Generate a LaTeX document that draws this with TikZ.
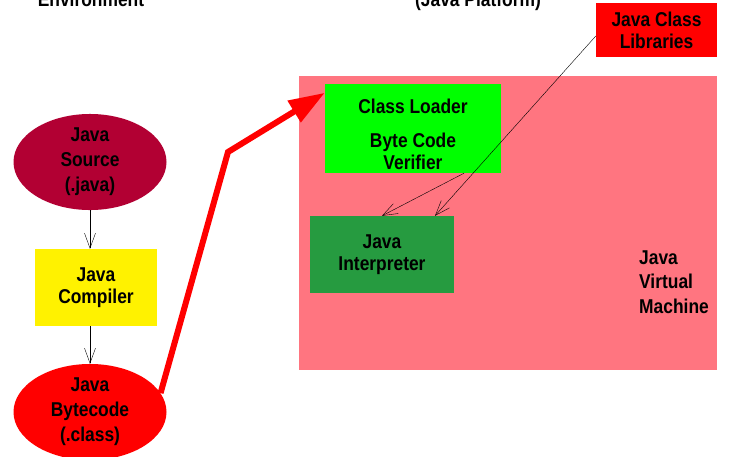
\documentclass[tikz,border=0pt]{standalone}
\usepackage{fontspec}
\setmainfont{Liberation Sans}[FakeStretch=0.87]
\usetikzlibrary{shapes.geometric,arrows.meta}

\definecolor{jvmpink}{RGB}{255,117,128}
\definecolor{srcred}{RGB}{178,0,51}
\definecolor{interpgreen}{RGB}{38,155,64}

\begin{document}
\begin{tikzpicture}[x=1pt,y=-1pt,
  txt/.style={font=\fontsize{20}{22}\selectfont\bfseries, align=center, inner sep=0pt},
  blob/.style={txt, ellipse, minimum width=153, minimum height=87, font=\fontsize{20}{25}\selectfont\bfseries},
  box/.style={txt, rectangle},
  flow/.style={-{Straight Barb[length=15pt,width=11pt]}, thin}]
\useasboundingbox (0,0) rectangle (729,456);

% headings (cut at the top)
\node[txt, anchor=base] (envtext) at (91,6) {Environment};
\node[txt, anchor=base] (platformtext) at (478,6) {(Java Platform)};

% development side
\node[blob, fill=srcred] (source) at (90,162) {Java\\Source\\(.java)};
\node[box, fill=yellow, minimum width=122, minimum height=77] (compiler) at (96,287.5) {Java\\Compiler};
\node[blob, fill=red] (bytecode) at (90,412) {Java\\Bytecode\\(.class)};

% platform side
\node[box, fill=jvmpink, minimum width=418, minimum height=294] (jvm) at (508,223) {};
\node[txt, anchor=west, align=left, font=\fontsize{20}{24.5}\selectfont\bfseries] (jvmtext) at (639,282) {Java\\Virtual\\Machine};
\node[box, fill=green, minimum width=176, minimum height=89] (loader) at (413,128.5) {};
\node[txt] (loadertext) at (413,134) {Class Loader\\[12pt]Byte Code\\Verifier};
\node[box, fill=interpgreen, minimum width=144, minimum height=77] (interp) at (382,254.5) {Java\\Interpreter};
\node[box, fill=red, minimum width=121, minimum height=54] (libs) at (656.5,30) {Java Class\\Libraries};

\draw[flow] (source.south) -- (source.south |- compiler.north);
\draw[flow] (bytecode.north |- compiler.south) -- (bytecode.north);
\coordinate (bend) at (228,152);
\draw[red, line width=6pt, -{Triangle[length=36pt,width=24pt]}]
  (bytecode.15) -- (bend) -- ([yshift=-9pt]loader.north west);
\draw[flow] ([xshift=51pt]loader.south) -- (interp.north);
\draw[flow] ([yshift=-6pt]libs.west) -- ([xshift=53pt]interp.north);
\end{tikzpicture}
\end{document}
